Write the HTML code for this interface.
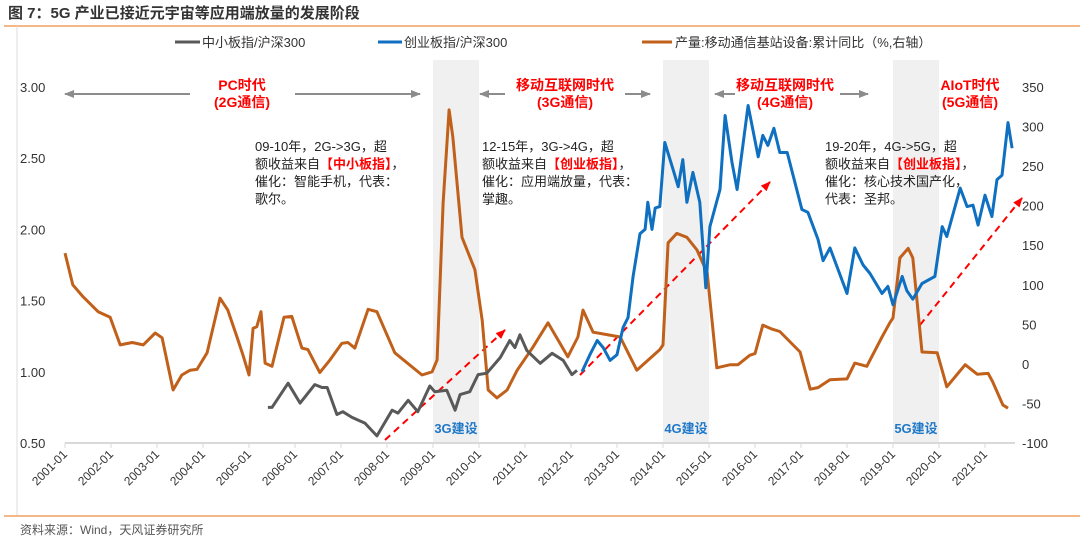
<!DOCTYPE html>
<html><head><meta charset="utf-8"><style>
html,body{margin:0;padding:0;background:#fff;}
body{width:1080px;height:545px;overflow:hidden;font-family:"Liberation Sans","Noto Sans CJK SC",sans-serif;}
</style></head><body>
<svg id="c" width="1080" height="545" xmlns="http://www.w3.org/2000/svg" font-family="Liberation Sans, Noto Sans CJK SC, sans-serif">
<text x="8" y="18" font-size="15" font-weight="bold" fill="#333">图 7：5G 产业已接近元宇宙等应用端放量的发展阶段</text>
<line x1="4" y1="26" x2="1080" y2="26" stroke="#f0a060" stroke-width="1.5"/>
<line x1="17" y1="26" x2="17" y2="516" stroke="#ddd" stroke-width="1"/>
<line x1="4" y1="516" x2="1080" y2="516" stroke="#f0a060" stroke-width="1.5"/>
<text x="20" y="534" font-size="12" fill="#555">资料来源：Wind，天风证券研究所</text>
<g>
<g><line x1="175" y1="42" x2="200" y2="42" stroke="#595959" stroke-width="3"/><text x="202" y="47" font-size="13" fill="#333">中小板指/沪深300</text></g>
<g><line x1="378" y1="42" x2="402" y2="42" stroke="#0f6fc0" stroke-width="3"/><text x="404" y="47" font-size="13" fill="#333">创业板指/沪深300</text></g>
<g><line x1="642" y1="42" x2="672" y2="42" stroke="#c0601a" stroke-width="3"/><text x="675" y="47" font-size="13" fill="#333">产量:移动通信基站设备:累计同比（%,右轴）</text></g>
</g>
<g id="bands"></g><g id="axes"></g><g id="anno"></g><g id="series"></g>
</svg>
<script>
const yearTicks=[2001,2002,2003,2004,2005,2006,2007,2008,2009,2010,2011,2012,2013,2014,2015,2016,2017,2018,2019,2020,2021];
const leftTicks=[0.5,1.0,1.5,2.0,2.5,3.0];
const rightTicks=[-100,-50,0,50,100,150,200,250,300,350];
const bandStarts=[2009,2014,2019];
const bandLabels=["3G建设","4G建设","5G建设"];
const smeDates=[2005.41,2005.50,2005.85,2006.11,2006.43,2006.59,2006.70,2006.91,2007.04,2007.24,2007.52,2007.78,2008.11,2008.24,2008.46,2008.67,2008.93,2009.04,2009.30,2009.48,2009.59,2009.80,2009.98,2010.17,2010.46,2010.67,2010.78,2010.89,2011.04,2011.33,2011.59,2011.83,2012.02,2012.13];
const smeValues=[0.75,0.75,0.92,0.78,0.91,0.89,0.89,0.70,0.72,0.68,0.64,0.55,0.73,0.71,0.80,0.72,0.90,0.86,0.87,0.73,0.84,0.86,0.98,0.99,1.10,1.22,1.17,1.26,1.15,1.06,1.13,1.08,0.98,1.01];
const chinextDates=[2012.24,2012.41,2012.57,2012.70,2012.85,2013.00,2013.13,2013.24,2013.35,2013.50,2013.61,2013.67,2013.76,2013.83,2013.93,2014.04,2014.22,2014.33,2014.43,2014.52,2014.65,2014.80,2014.93,2015.02,2015.24,2015.35,2015.50,2015.61,2015.85,2016.07,2016.17,2016.28,2016.41,2016.54,2016.70,2017.02,2017.15,2017.37,2017.48,2017.63,2018.00,2018.17,2018.35,2018.50,2018.76,2018.89,2019.00,2019.20,2019.30,2019.43,2019.63,2019.91,2020.07,2020.17,2020.46,2020.61,2020.74,2020.85,2021.00,2021.15,2021.26,2021.37,2021.50,2021.59];
const chinextValues=[1.00,1.12,1.22,1.17,1.08,1.12,1.31,1.38,1.67,1.97,2.00,2.19,2.00,2.15,2.16,2.61,2.42,2.30,2.49,2.19,2.40,2.19,1.59,2.02,2.28,2.80,2.47,2.28,2.87,2.51,2.66,2.59,2.71,2.54,2.54,2.14,2.12,1.93,1.78,1.87,1.55,1.87,1.75,1.69,1.55,1.60,1.47,1.67,1.57,1.51,1.62,1.67,2.02,1.95,2.29,2.16,2.17,2.03,2.24,2.09,2.35,2.38,2.75,2.57];
const stationDates=[2001.00,2001.17,2001.39,2001.72,2001.98,2002.20,2002.46,2002.70,2002.96,2003.11,2003.35,2003.54,2003.72,2003.87,2004.09,2004.37,2004.54,2004.74,2004.87,2005.00,2005.09,2005.17,2005.26,2005.35,2005.50,2005.76,2005.93,2006.15,2006.28,2006.54,2006.76,2007.02,2007.15,2007.30,2007.59,2007.78,2008.17,2008.76,2008.98,2009.09,2009.22,2009.35,2009.43,2009.63,2009.91,2010.07,2010.20,2010.39,2010.61,2010.83,2011.17,2011.50,2011.93,2012.15,2012.26,2012.48,2012.78,2013.07,2013.43,2013.93,2014.00,2014.11,2014.30,2014.52,2014.74,2014.96,2015.17,2015.46,2015.63,2015.89,2016.00,2016.17,2016.37,2016.54,2016.98,2017.20,2017.37,2017.63,2018.00,2018.17,2018.43,2018.76,2018.93,2019.00,2019.15,2019.33,2019.43,2019.63,2019.96,2020.17,2020.57,2020.83,2021.07,2021.17,2021.39,2021.50];
const stationValues=[140,100,85,66,59,24,27,24,39,33,-33,-14,-8,-7,14,83,68,34,11,-14,45,47,66,1,-3,59,60,20,18,-11,5,26,27,20,69,66,14,-14,-10,5,203,321,287,160,119,55,-33,-43,-33,-8,21,52,9,34,68,40,37,34,-8,18,24,153,165,160,144,115,-5,-1,-1,11,13,49,44,41,15,-32,-30,-20,-19,1,-3,34,52,58,134,146,134,15,14,-29,-1,-13,-12,-23,-52,-56];

const NS='http://www.w3.org/2000/svg';
const X0=65,YW=46,YL0=443,YL1=87;
const xs=d=>X0+(d-2001)*YW;
const yl=v=>YL0-(v-0.5)/2.5*(YL0-YL1);
const yr=v=>YL0-(v+100)/450*(YL0-YL1);
function mk(tag,attrs,parent,text){const e=document.createElementNS(NS,tag);for(const k in attrs)e.setAttribute(k,attrs[k]);if(text!==undefined)e.textContent=text;parent.appendChild(e);return e;}
const bands=document.getElementById('bands'),axes=document.getElementById('axes'),anno=document.getElementById('anno'),series=document.getElementById('series');
bandStarts.forEach((b,i)=>{
  const r=mk('rect',{x:xs(b),y:60,width:YW,height:YL0-60,fill:'#f0f0f0'},bands);
  
  
  const t=mk('text',{x:xs(b)+YW/2,y:433,'font-size':13,'font-weight':'bold',fill:'#1f78c8','text-anchor':'middle'},bands,bandLabels[i]);
  
  
});
const ax=mk('line',{x1:X0,y1:YL0,x2:1015,y2:YL0,stroke:'#d9d9d9','stroke-width':2},axes);


yearTicks.forEach(y=>{
  const x=xs(y);
  mk('line',{x1:x,y1:YL0,x2:x,y2:YL0+5,stroke:'#d9d9d9'},axes);
  const t=mk('text',{x:x+3,y:YL0+12,'font-size':12,fill:'#333','text-anchor':'end',transform:`rotate(-45 ${x+3} ${YL0+12})`},axes,y+'-01');
  
  
});
leftTicks.forEach(v=>{
  const t=mk('text',{x:20,y:yl(v)+5,'font-size':13,fill:'#333'},axes,v.toFixed(2));
  
  
});
rightTicks.forEach(v=>{
  const t=mk('text',{x:1022,y:yr(v)+5,'font-size':13,fill:'#333'},axes,String(v));
  
  
});
// era labels and arrows
const defs=mk('defs',{},document.getElementById('c'));
const m=mk('marker',{id:'ga',markerWidth:10,markerHeight:8,refX:9,refY:4,orient:'auto',markerUnits:'userSpaceOnUse'},defs);
mk('path',{d:'M0,0 L10,4 L0,8 Z',fill:'#8c8c8c'},m);
const m2=mk('marker',{id:'ra',markerWidth:10,markerHeight:8,refX:9,refY:4,orient:'auto',markerUnits:'userSpaceOnUse'},defs);
mk('path',{d:'M0,0 L10,4 L0,8 Z',fill:'#ff0000'},m2);
const eras=[[242,'PC时代','(2G通信)',[[190,65],[295,420]]],[565,'移动互联网时代','(3G通信)',[[505,480],[625,650]]],[785,'移动互联网时代','(4G通信)',[[735,715],[840,868]]],[970,'AIoT时代','(5G通信)',[]]];
eras.forEach((e,i)=>{
  const g=mk('g',{},anno);
  
  
  mk('text',{x:e[0],y:90,'font-size':14,'font-weight':'bold',fill:'#ff0000','text-anchor':'middle'},g,e[1]);
  mk('text',{x:e[0],y:107,'font-size':14,'font-weight':'bold',fill:'#ff0000','text-anchor':'middle'},g,e[2]);
  e[3].forEach(a=>mk('line',{x1:a[0],y1:94,x2:a[1],y2:94,stroke:'#8c8c8c','stroke-width':2,'marker-end':'url(#ga)'},g));
});
const notes=[[255,['09-10年，2G->3G，超','额收益来自|【中小板指】|，','催化：智能手机，代表：','歌尔。']],[482,['12-15年，3G->4G，超','额收益来自|【创业板指】|，','催化：应用端放量，代表：','掌趣。']],[825,['19-20年，4G->5G，超','额收益来自|【创业板指】|，','催化：核心技术国产化，','代表：圣邦。']]];
notes.forEach((n,i)=>{
  const t=mk('text',{x:n[0],y:0,'font-size':13,fill:'#222'},anno);
  
  
  n[1].forEach((line,j)=>{
    const parts=line.split('|');
    parts.forEach((p,k)=>{
      const at={};
      if(k===0){at.x=n[0];at.y=151+j*17.5;}
      if(k===1){at.fill='#ff0000';at['font-weight']='bold';}
      mk('tspan',at,t,p);
    });
  });
});
[[385,440,505,330],[580,375,770,182],[920,325,1022,198]].forEach((a,i)=>{
  const l=mk('line',{x1:a[0],y1:a[1],x2:a[2],y2:a[3],stroke:'#ff0000','stroke-width':2,'stroke-dasharray':'7,5','marker-end':'url(#ra)'},anno);
  
  
});
function line(ds,vs,yf,color,name){
  const p=mk('polyline',{points:ds.map((d,i)=>xs(d).toFixed(1)+','+yf(vs[i]).toFixed(1)).join(' '),fill:'none',stroke:color,'stroke-width':3,'stroke-linejoin':'round'},series);
  
  
}
line(stationDates,stationValues,yr,'#c0601a','series-base-station-yoy');
line(smeDates,smeValues,yl,'#595959','series-sme-ratio');
line(chinextDates,chinextValues,yl,'#0f6fc0','series-chinext-ratio');
</script>
</body></html>
